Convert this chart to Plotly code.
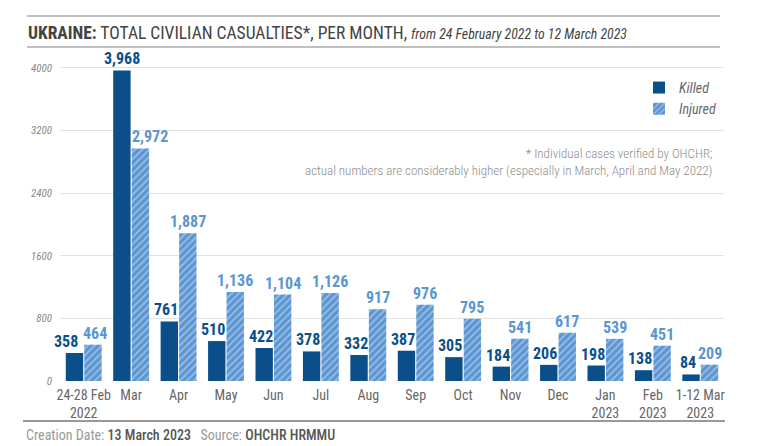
import plotly.graph_objects as go

# values
months = ['24-28 Feb<br>2022', 'Mar', 'Apr', 'May', 'Jun', 'Jul', 'Aug', 'Sep',
          'Oct', 'Nov', 'Dec', 'Jan<br>2023', 'Feb<br>2023', '1-12 Mar<br>2023']
killed = [358, 3968, 761, 510, 422, 378, 332, 387, 305, 184, 206, 198, 138, 84]
injured = [464, 2972, 1887, 1136, 1104, 1126, 917, 976, 795, 541, 617, 539, 451, 209]
y_ticks = [0, 800, 1600, 2400, 3200, 4000]

FONT = 'Roboto Condensed, Liberation Sans Narrow, Roboto, sans-serif'
DARK = '#0b4f8a'
LIGHT = '#5b95d2'

# label nudges (px) so neighbouring value labels don't collide
nudge_killed = {0: -5, 1: 3.5}
nudge_injured = {0: 2, 1: 10}


def fmt(v):
    return '{:,}'.format(v)


fig = go.Figure()
fig.add_trace(go.Bar(name='Killed', x=months, y=killed,
                     marker=dict(color=DARK, line=dict(width=0))))
fig.add_trace(go.Bar(name='Injured', x=months, y=injured,
                     marker=dict(color=LIGHT, line=dict(width=0),
                                 pattern=dict(shape='/', fgcolor='#d6e5f5',
                                              size=5, solidity=0.35))))

# value labels above each bar
for i, m in enumerate(months):
    fig.add_annotation(x=m, y=killed[i], text='<b>' + fmt(killed[i]) + '</b>',
                       xshift=-9.25 - 3.5 + nudge_killed.get(i, 0), yshift=0,
                       yanchor='bottom', showarrow=False,
                       font=dict(size=16, color=DARK))
    fig.add_annotation(x=m, y=injured[i], text='<b>' + fmt(injured[i]) + '</b>',
                       xshift=9.25 + nudge_injured.get(i, 0), yshift=0,
                       yanchor='bottom', showarrow=False,
                       font=dict(size=16, color=LIGHT))

title = ('<b>UKRAINE:</b> TOTAL CIVILIAN CASUALTIES*, PER MONTH, '
         '<i><span style="font-size:13.8px">from 24 February 2022 to 12 March 2023</span></i>')

fig.update_layout(
    width=757, height=438,
    margin=dict(l=52, r=41, t=47, b=65),
    paper_bgcolor='white', plot_bgcolor='white',
    font=dict(family=FONT, color='#555'),
    barmode='group', bargap=0.22, bargroupgap=0.06,
    title=dict(text=title, xref='container', yref='container',
               x=0.0264, y=0.943, xanchor='left', yanchor='middle',
               font=dict(family=FONT, size=17.5, color='#444')),
    xaxis=dict(range=[-0.5, len(months) - 0.5], tickfont=dict(size=14, color='#666'),
               showline=False, ticks='', showgrid=False, ticklabelstandoff=4,
               automargin=False),
    yaxis=dict(range=[0, 4166], tickvals=y_ticks,
               tickfont=dict(size=11, color='#888', style='italic'),
               showgrid=True, gridcolor='#e2e2e2', gridwidth=1,
               zeroline=False, showline=False, ticks='', ticklabelstandoff=7,
               automargin=False),
    legend=dict(x=0.872, y=0.948, xanchor='left', yanchor='top',
                font=dict(size=14, color='#666', style='italic'),
                bgcolor='rgba(0,0,0,0)', tracegroupgap=0),
    showlegend=True,
)

for y0, x0, x1, w, c in [(1.1196, -0.0497, 0.994, 1.5, '#aaaaaa'),
                         (1.0245, -0.0497, 0.994, 1.5, '#aaaaaa'),
                         (-0.1227, -0.0557, 1.0015, 2, '#999999')]:
    fig.add_shape(type='line', xref='paper', yref='paper',
                  x0=x0, x1=x1, y0=y0, y1=y0, line=dict(color=c, width=w))

fig.add_annotation(xref='paper', yref='paper', x=0.985, y=0.672,
                   xanchor='right', yanchor='middle', align='right', showarrow=False,
                   text='* Individual cases verified by OHCHR;<br>'
                        'actual numbers are considerably higher (especially in March, April and May 2022)',
                   font=dict(size=13, color='#8c8c8c', weight=300))

fig.add_annotation(xref='paper', yref='paper', x=-0.0542, y=-0.1656,
                   xanchor='left', yanchor='middle', showarrow=False,
                   text='<span style="color:#999">Creation Date: </span>'
                        '<span style="color:#555;font-weight:500">13 March 2023</span>'
                        '<span style="color:#999">   Source: </span>'
                        '<span style="color:#555;font-weight:500">OHCHR HRMMU</span>',
                   font=dict(size=14))

fig.write_html('out.html')
